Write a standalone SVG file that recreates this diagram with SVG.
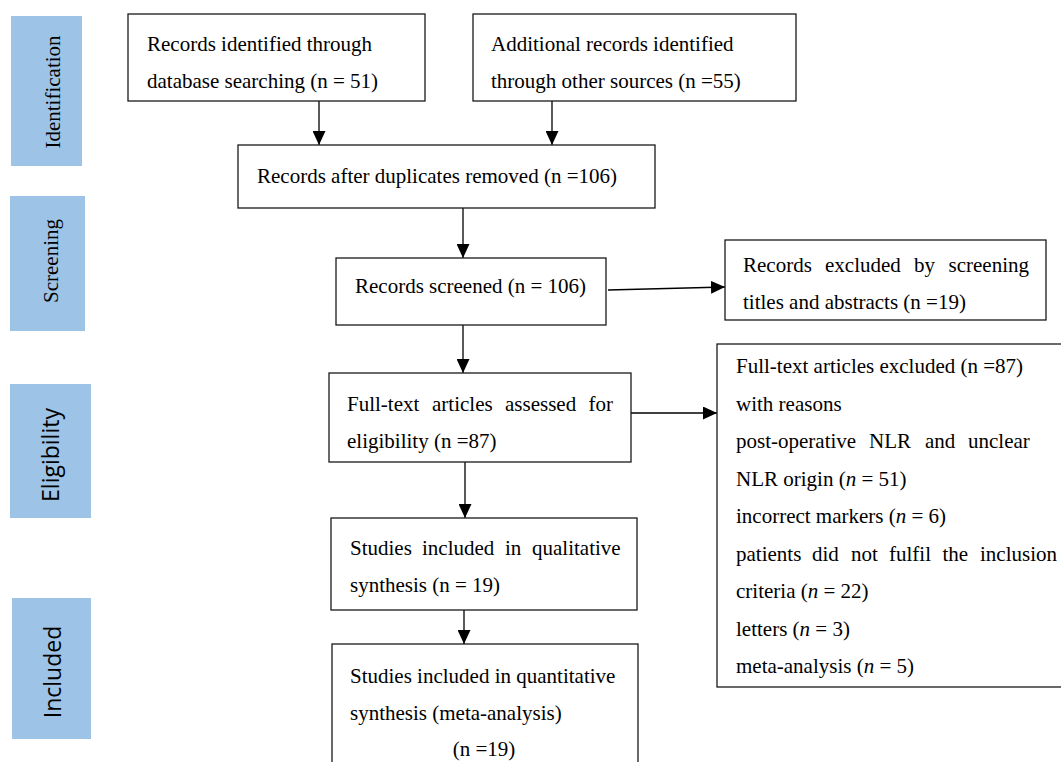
<svg xmlns="http://www.w3.org/2000/svg" width="1061" height="762" viewBox="0 0 1061 762">
<defs>
<style>
.box{fill:#fff;stroke:#1a1a1a;stroke-width:1.3}
.side{fill:#9DC3E6}
.t{font-family:"Liberation Serif","Times New Roman",serif;font-size:21px;fill:#000}
.s{font-family:"Open Sans","Liberation Sans",sans-serif;font-size:23px;fill:#000}
.c{stroke:#000;stroke-width:1.3;fill:none;marker-end:url(#ah)}
</style>
<marker id="ah" viewBox="0 0 14 13" refX="14" refY="6.5" markerWidth="14" markerHeight="13" markerUnits="userSpaceOnUse" orient="auto">
<path d="M0,0 L14,6.5 L0,13 Z" fill="#000"/>
</marker>
</defs>
<rect width="1061" height="762" fill="#fff"/>

<g id="stage-identification">
<rect class="side" x="11" y="16" width="71" height="150"/>
<text class="t" transform="translate(60,92) rotate(-90)" text-anchor="middle" font-size="20">Identification</text>
</g>
<g id="stage-screening">
<rect class="side" x="10" y="196" width="75" height="135"/>
<text class="t" transform="translate(58,261) rotate(-90)" text-anchor="middle" font-size="20">Screening</text>
</g>
<g id="stage-eligibility">
<rect class="side" x="10" y="384" width="81" height="134"/>
<text class="s" transform="translate(59,455) rotate(-90)" text-anchor="middle">Eligibility</text>
</g>
<g id="stage-included">
<rect class="side" x="12" y="598" width="79" height="141"/>
<text class="s" transform="translate(61,672) rotate(-90)" text-anchor="middle" font-size="25">Included</text>
</g>

<g id="connectors">
<line class="c" x1="319" y1="101" x2="319" y2="145"/>
<line class="c" x1="552" y1="101" x2="552" y2="145"/>
<line class="c" x1="463" y1="208" x2="463" y2="258"/>
<line class="c" x1="608" y1="290" x2="725" y2="287"/>
<line class="c" x1="463" y1="325" x2="463" y2="373"/>
<line class="c" x1="631" y1="413" x2="717" y2="413"/>
<line class="c" x1="465" y1="462" x2="465" y2="518"/>
<line class="c" x1="464" y1="610" x2="464" y2="644"/>
</g>

<g id="n1">
<rect class="box" x="128" y="14" width="297" height="87"/>
<text class="t" x="147" y="51">Records identified through</text>
<text class="t" x="147" y="88">database searching (n = 51)</text>
</g>
<g id="n2">
<rect class="box" x="473" y="14" width="323" height="87"/>
<text class="t" x="491" y="51">Additional records identified</text>
<text class="t" x="491" y="88">through other sources (n =55)</text>
</g>
<g id="n3">
<rect class="box" x="238" y="145" width="417" height="63"/>
<text class="t" x="257" y="183">Records after duplicates removed (n =106)</text>
</g>
<g id="n4">
<rect class="box" x="336" y="258" width="270" height="67"/>
<text class="t" x="355" y="293">Records screened (n = 106)</text>
</g>
<g id="n5">
<rect class="box" x="725" y="240" width="321" height="80"/>
<text class="t" y="272"><tspan x="743">Records</tspan><tspan x="825">excluded</tspan><tspan x="914">by</tspan><tspan x="948.5">screening</tspan></text>
<text class="t" x="743" y="309">titles and abstracts (n =19)</text>
</g>
<g id="n6">
<rect class="box" x="329" y="373" width="302" height="89"/>
<text class="t" y="411"><tspan x="347">Full-text</tspan><tspan x="432">articles</tspan><tspan x="505">assessed</tspan><tspan x="588.5">for</tspan></text>
<text class="t" x="347" y="448">eligibility (n =87)</text>
</g>
<g id="n7">
<rect class="box" x="717" y="344" width="360" height="343"/>
<text class="t" x="736" y="373">Full-text articles excluded (n =87)</text>
<text class="t" x="736" y="411">with reasons</text>
<text class="t" y="448"><tspan x="736">post-operative</tspan><tspan x="869">NLR</tspan><tspan x="925">and</tspan><tspan x="968">unclear</tspan></text>
<text class="t" x="736" y="486">NLR origin (<tspan font-style="italic">n</tspan> = 51)</text>
<text class="t" x="736" y="523">incorrect markers (<tspan font-style="italic">n</tspan> = 6)</text>
<text class="t" y="561"><tspan x="736">patients</tspan><tspan x="812">did</tspan><tspan x="851">not</tspan><tspan x="889">fulfil</tspan><tspan x="942.5">the</tspan><tspan x="980">inclusion</tspan></text>
<text class="t" x="736" y="598">criteria (<tspan font-style="italic">n</tspan> = 22)</text>
<text class="t" x="736" y="636">letters (<tspan font-style="italic">n</tspan> = 3)</text>
<text class="t" x="736" y="673">meta-analysis (<tspan font-style="italic">n</tspan> = 5)</text>
</g>
<g id="n8">
<rect class="box" x="331" y="518" width="306" height="92"/>
<text class="t" y="555"><tspan x="350">Studies</tspan><tspan x="422">included</tspan><tspan x="505">in</tspan><tspan x="532">qualitative</tspan></text>
<text class="t" x="350" y="592">synthesis (n = 19)</text>
</g>
<g id="n9">
<rect class="box" x="332" y="644" width="306" height="130"/>
<text class="t" x="350" y="683">Studies included in quantitative</text>
<text class="t" x="350" y="720">synthesis (meta-analysis)</text>
<text class="t" x="484" y="756" text-anchor="middle">(n =19)</text>
</g>
</svg>
